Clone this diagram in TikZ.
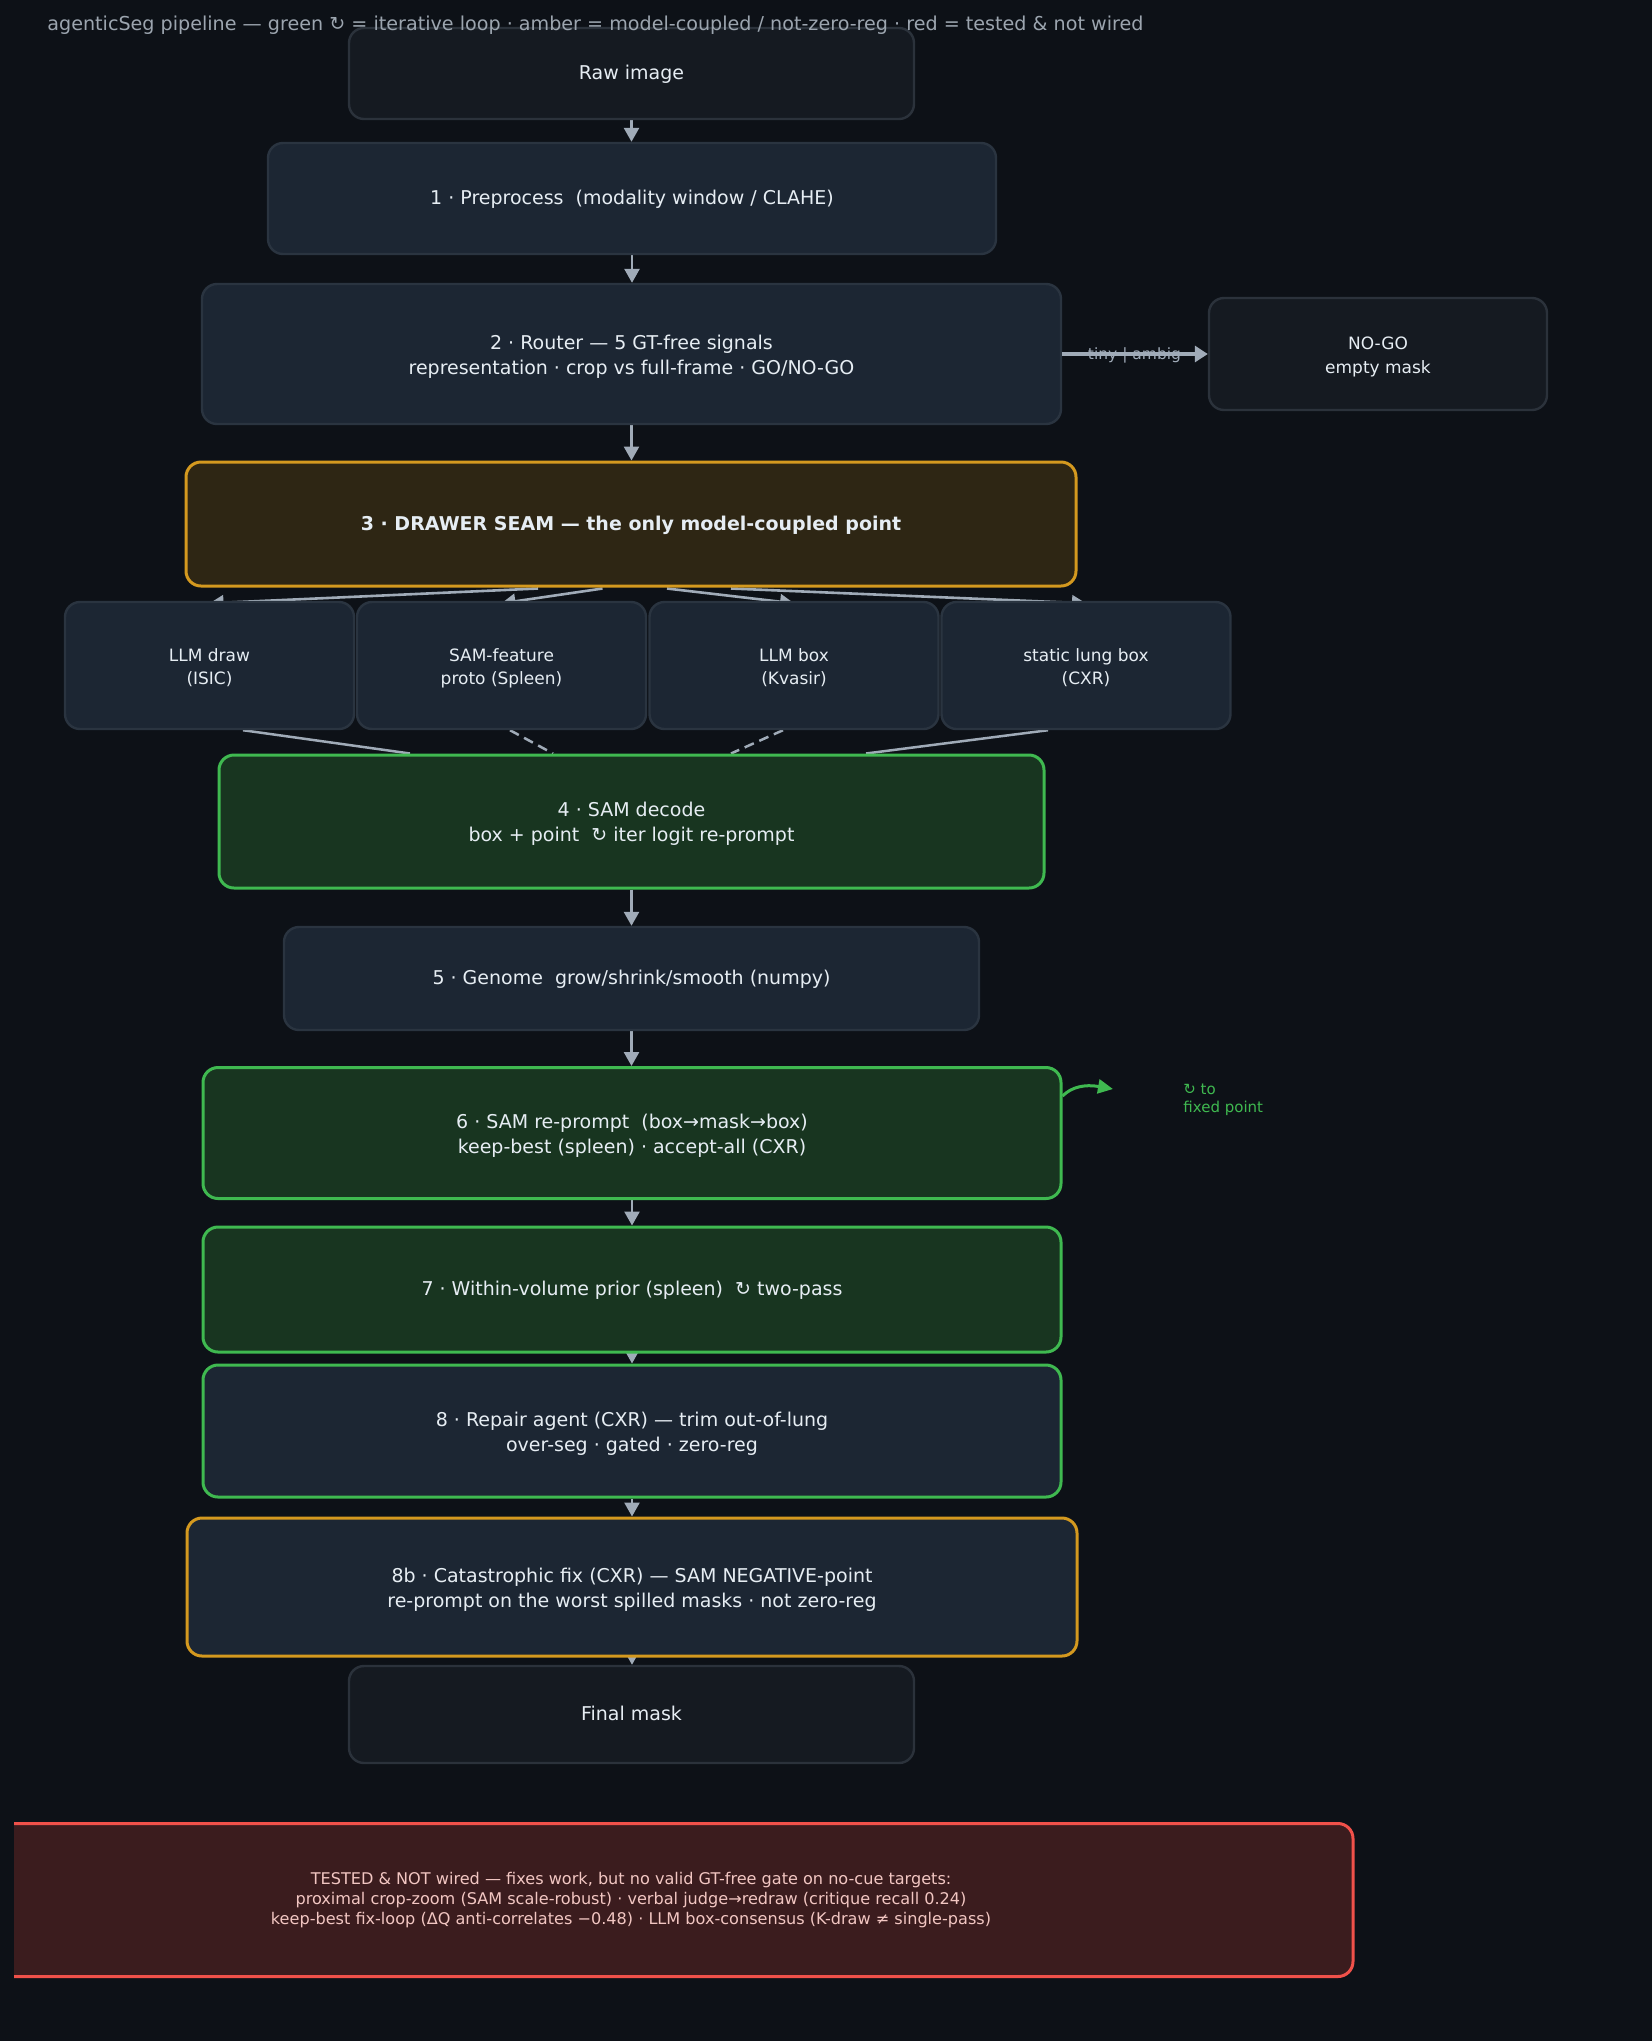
\documentclass[tikz,border=0pt]{standalone}
\usepackage{fontspec}
\setmainfont{DejaVu Sans}
\usetikzlibrary{arrows.meta,calc}
\definecolor{bg}{HTML}{0D1117}
\definecolor{titlec}{HTML}{9CA5AF}
\definecolor{txt}{HTML}{E6EDF3}
\definecolor{boxfill}{HTML}{1C2633}
\definecolor{boxline}{HTML}{2A3440}
\definecolor{darkfill}{HTML}{151A21}
\definecolor{darkline}{HTML}{2B323B}
\definecolor{amber}{HTML}{D4991F}
\definecolor{amberfill}{HTML}{2E2614}
\definecolor{greenc}{HTML}{3FB950}
\definecolor{greenfill}{HTML}{183520}
\definecolor{redc}{HTML}{F0514A}
\definecolor{redfill}{HTML}{3B1C1E}
\definecolor{redtxt}{HTML}{F2C6C2}
\definecolor{arrowc}{HTML}{A0ABB8}
\newcommand\fmain{\fontsize{9.5}{12.4}\selectfont}
\newcommand\ftitle{\fontsize{9.57}{12.4}\selectfont}
\newcommand\fsmall{\fontsize{8.5}{11.7}\selectfont}
\newcommand\fred{\fontsize{8.05}{9.8}\selectfont}
\newcommand\flbl{\fontsize{7.75}{9.8}\selectfont}
\newcommand\fnote{\fontsize{7.5}{9}\selectfont}
\pgfdeclarelayer{canvas}
\pgfdeclarelayer{background}
\pgfsetlayers{canvas,background,main}
\begin{document}
\begin{tikzpicture}[x=0.5pt,y=-0.5pt,
  box/.style={draw=boxline, fill=boxfill, line width=1.2pt, rounded corners=7.5pt,
    align=center, text=txt, font=\fmain, inner sep=0pt},
  oneline/.style={text height=8.6pt, text depth=2.3pt},
  twoline/.style={text height=22.3pt, text depth=2.3pt},
  darkbox/.style={box, draw=darkline, fill=darkfill},
  amberbox/.style={box, draw=amber, fill=amberfill, line width=1.5pt},
  greenbox/.style={box, draw=greenc, fill=greenfill, line width=1.5pt},
  smallbox/.style={box, font=\fsmall, minimum width=144.5pt, minimum height=63.5pt,
    text height=21pt, text depth=2pt},
  redbox/.style={box, draw=redc, fill=redfill, line width=1.5pt, text=redtxt, font=\fred},
  flow/.style={draw=arrowc, line width=1.3pt, -{Triangle[length=7pt,width=7.5pt]}},
  flowthick/.style={draw=arrowc, line width=1.6pt, -{Triangle[length=6.5pt,width=8pt]}},
  link/.style={draw=arrowc, line width=1.25pt},
  dashlink/.style={link, dash pattern=on 5pt off 3pt},
  loopflow/.style={draw=greenc, line width=1.5pt, -{Triangle[length=7.5pt,width=7pt]}}
]
\begin{pgfonlayer}{canvas}
\fill[bg] (0,0) rectangle (1652,2041);
\end{pgfonlayer}
\useasboundingbox (0,0) rectangle (1652,2041);

% nodes
\node[darkbox, oneline, minimum width=282.5pt, minimum height=45.5pt] (raw) at (631.5,73.5) {Raw image};
\node[box, oneline, minimum width=364pt, minimum height=55.5pt] (pre) at (632,198.5) {1 · Preprocess\ \ (modality window / CLAHE)};
\node[box, twoline, minimum width=429.5pt, minimum height=70pt] (router) at (631.5,354) {2 · Router — 5 GT-free signals\\representation · crop vs full-frame · GO/NO-GO};
\node[darkbox, font=\fsmall, minimum width=169pt, minimum height=56pt, text height=21pt, text depth=2pt] (nogo) at (1378,354) {NO-GO\\empty mask};
\node[amberbox, oneline, minimum width=445pt, minimum height=62pt] (seam) at (631,524) {\textbf{3 · DRAWER SEAM — the only model-coupled point}};
\node[smallbox] (d1) at (209.5,665.5) {LLM draw\\(ISIC)};
\node[smallbox] (d2) at (501.5,665.5) {SAM-feature\\proto (Spleen)};
\node[smallbox] (d3) at (794,665.5) {LLM box\\(Kvasir)};
\node[smallbox] (d4) at (1086,665.5) {static lung box\\(CXR)};
\node[greenbox, twoline, minimum width=412.5pt, minimum height=66.5pt] (decode) at (631.5,821.5) {4 · SAM decode\\box + point\ \ ↻ iter logit re-prompt};
\node[box, oneline, minimum width=347.5pt, minimum height=51.5pt] (genome) at (631.5,978.5) {5 · Genome\ \ grow/shrink/smooth (numpy)};
\node[greenbox, twoline, minimum width=429pt, minimum height=65.5pt] (six) at (632,1133) {6 · SAM re-prompt\ \ (box→mask→box)\\keep-best (spleen) · accept-all (CXR)};
\node[greenbox, oneline, minimum width=429pt, minimum height=62.5pt] (seven) at (632,1289.5) {7 · Within-volume prior (spleen)\ \ ↻ two-pass};
\node[box, twoline, draw=greenc, line width=1.5pt, minimum width=429pt, minimum height=66pt] (eight) at (632,1431) {8 · Repair agent (CXR) — trim out-of-lung\\over-seg · gated · zero-reg};
\node[box, twoline, draw=amber, line width=1.5pt, minimum width=445pt, minimum height=69pt] (eightb) at (632,1587) {8b · Catastrophic fix (CXR) — SAM NEGATIVE-point\\re-prompt on the worst spilled masks · not zero-reg};
\node[darkbox, oneline, minimum width=282.5pt, minimum height=48.5pt] (final) at (631.5,1714.5) {Final mask};
\begin{scope}
  \clip (14,0) rectangle (1652,2041);
  \node[redbox, minimum width=722pt, minimum height=76.5pt] (tested) at (631,1900) {TESTED \& NOT wired — fixes work, but no valid GT-free gate on no-cue targets:\\proximal crop-zoom (SAM scale-robust) · verbal judge→redraw (critique recall 0.24)\\keep-best fix-loop (ΔQ anti-correlates −0.48) · LLM box-consensus (K-draw ≠ single-pass)};
\end{scope}

% title
\node[anchor=west, text=titlec, font=\ftitle, inner sep=0pt] (title) at (47,25.5) {agenticSeg pipeline — green ↻ = iterative loop · amber = model-coupled / not-zero-reg · red = tested \& not wired};

% loop note
\coordinate (fixtip) at (1113,1089);
\node[anchor=west, align=left, text=greenc, font=\fnote, inner sep=0pt] (fixnote) at (1183,1099.5) {↻ to\\fixed point};
\draw[loopflow] ($(six.east)+(0,-37)$) .. controls ($(six.east)+(9,-46)$) and ($(six.east)+(22,-49)$) .. (fixtip);

% router -> nogo
\node[text=arrowc, font=\flbl, inner sep=0pt] (tinylbl) at (1134.5,355) {tiny | ambig};
\draw[flowthick] (router.east) -- (nogo.west);

% edges behind boxes
\begin{pgfonlayer}{background}
\draw[flow] (raw.south) -- (raw.south |- pre.north);
\draw[flow] (pre.south) -- (pre.south |- router.north);
\draw[flow] (router.south) -- (router.south |- seam.north);
\draw[flow] ($(seam.south)+(-93,1)$) -- ($(d1.north)+(0,2.5)$);
\draw[flow] ($(seam.south)+(-28.5,1)$) -- ($(d2.north)+(0,2.5)$);
\draw[flow] ($(seam.south)+(36,1)$) -- ($(d3.north)+(0,2.5)$);
\draw[flow] ($(seam.south)+(100,1)$) -- ($(d4.north)+(0,2.5)$);
\draw[link] ($(d1.south)+(33.5,0)$) -- ($(decode.north)+(-221.5,0)$);
\draw[dashlink] ($(d2.south)+(8.5,0)$) -- ($(decode.north)+(-78.5,0)$);
\draw[dashlink] ($(d3.south)+(-11,0)$) -- ($(decode.north)+(99.5,0)$);
\draw[link] ($(d4.south)+(-38,0)$) -- ($(decode.north)+(234.5,0)$);
\draw[flow] (decode.south) -- (decode.south |- genome.north);
\draw[flow] (genome.south) -- (genome.south |- six.north);
\draw[flow] (six.south) -- (six.south |- seven.north);
\draw[flow] (seven.south) -- (seven.south |- eight.north);
\draw[flow] (eight.south) -- (eight.south |- eightb.north);
\draw[flow] (eightb.south) -- (eightb.south |- final.north);
\end{pgfonlayer}
\end{tikzpicture}
\end{document}
